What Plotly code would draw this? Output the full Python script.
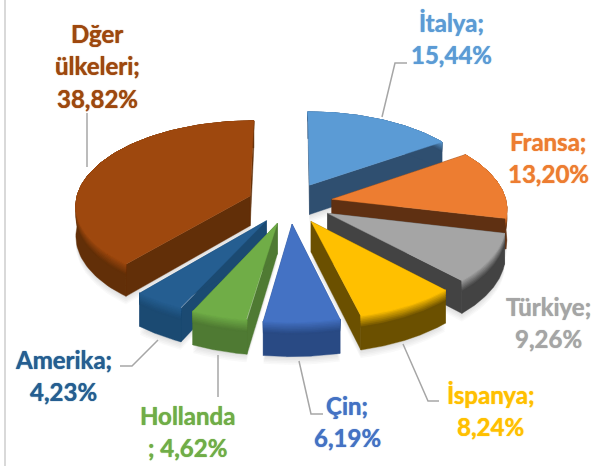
import numpy as np
import plotly.graph_objects as go

names = ["İtalya", "Fransa", "Türkiye", "İspanya", "Çin", "Hollanda", "Amerika", "Dğer ülkeleri"]
values = [15.44, 13.20, 9.26, 8.24, 6.19, 4.62, 4.23, 38.82]
top_colors = ["#5b9bd5", "#ed7d31", "#a5a5a5", "#ffc000", "#4472c4", "#70ad47", "#255e91", "#9e480e"]
cut_colors = ["#2f4f70", "#5f3012", "#434343", "#6b5000", "#294a84", "#4f7a33", "#1b4a72", "#622f08"]
draw_order = [7, 0, 1, 2, 3, 6, 5, 4]

label_lines = [
    ["İtalya;", "15,44%"], ["Fransa;", "13,20%"], ["Türkiye;", "9,26%"], ["İspanya;", "8,24%"],
    ["Çin;", "6,19%"], ["Hollanda", "; 4,62%"], ["Amerika;", "4,23%"], ["Dğer", "ülkeleri;", "38,82%"],
]
label_anchor = [(451, 22), (548, 141), (548, 306), (490, 394), (347, 405), (187, 415), (63, 359), (97, 33)]
leaders = [
    [(382, 117), (395, 63), (407, 63)],
    [(87, 113), (87, 167)],
    [(158, 340), (132, 366), (120, 366)],
    [(218, 355), (218, 397)],
    [(299, 361), (311, 414), (323, 414)],
    [(403, 344), (428, 401), (439, 401)],
]

# projection settings
CX, CY, AX, BY, PERSP, DEPTH, EXPLODE = 290, 203, 174.5, 84, 0.10, 30, 0.245


def project(theta, mid, r, z):
    X = r * np.sin(theta) + EXPLODE * np.sin(mid)
    Y = r * np.cos(theta) + EXPLODE * np.cos(mid)
    s = 1 / (1 + PERSP * Y)
    return CX + AX * X * s, CY - BY * Y * s + DEPTH * z * s


def rgb(h):
    return np.array([int(h[i:i + 2], 16) for i in (1, 3, 5)], float)


def mix(a, b, t):
    c = rgb(a) * (1 - t) + rgb(b) * t
    return "rgb(%d,%d,%d)" % tuple(c)


fig = go.Figure()


def poly(xs, ys, color):
    fig.add_trace(go.Scatter(x=np.asarray(xs), y=np.asarray(ys), mode="lines", fill="toself",
                             fillcolor=color, line=dict(color=color, width=0.4),
                             hoverinfo="skip", showlegend=False))


edges = np.cumsum([0] + values) / sum(values) * 2 * np.pi
bands = [0, .05, .1, .15, .2, .25, .3, .35]

# soft shadows
for i in draw_order:
    a0, a1 = edges[i], edges[i + 1]
    mid = (a0 + a1) / 2
    th = np.linspace(a0, a1, 80)
    for k in range(1, 6):
        bx, by = project(th, mid, 1.0, 1.0)
        ax_, ay_ = project(np.array([mid]), mid, 0.0, 1.0)
        xs = np.r_[ax_, bx, ax_]
        ys = np.r_[ay_, by, ay_] + k * 1.6
        poly(xs, ys, "rgba(0,0,0,0.025)")

for i in draw_order:
    a0, a1 = edges[i], edges[i + 1]
    mid = (a0 + a1) / 2
    th = np.linspace(a0, a1, 80)
    top, cut = top_colors[i], cut_colors[i]
    # radial cut faces
    for a in (a0, a1):
        ox0, oy0 = project(np.array([a]), mid, 1.0, 0.0)
        ox1, oy1 = project(np.array([a]), mid, 1.0, 1.0)
        ix0, iy0 = project(np.array([a]), mid, 0.0, 0.0)
        ix1, iy1 = project(np.array([a]), mid, 0.0, 1.0)
        poly(np.r_[ix0, ox0, ox1, ix1, ix0], np.r_[iy0, oy0, oy1, iy1, iy0], cut)
    # outer wall: base colour, then nested bands for the rounded edge (painted bottom-up)
    x0, y0 = project(th, mid, 1.0, 0.0)
    x1, y1 = project(th, mid, 1.0, 1.0)
    poly(np.r_[x0, x1[::-1], x0[0]], np.r_[y0, y1[::-1], y0[0]], cut)
    for z in bands[::-1]:
        x1, y1 = project(th, mid, 1.0, z)
        poly(np.r_[x0, x1[::-1], x0[0]], np.r_[y0, y1[::-1], y0[0]], mix(top, cut, z / bands[-1]))
    # top face
    tx, ty = project(th, mid, 1.0, 0.0)
    ax_, ay_ = project(np.array([mid]), mid, 0.0, 0.0)
    poly(np.r_[ax_, tx, ax_], np.r_[ay_, ty, ay_], top)

for pts in leaders:
    fig.add_trace(go.Scatter(x=[p[0] for p in pts], y=[p[1] for p in pts], mode="lines",
                             line=dict(color="#a6a6a6", width=1.5), hoverinfo="skip", showlegend=False))

fig.add_shape(type="line", x0=5, x1=5, y0=0, y1=466, line=dict(color="#d9d9d9", width=2))

for lines, (ax0, ay0), color in zip(label_lines, label_anchor, top_colors):
    for n, line in enumerate(lines):
        fig.add_annotation(x=ax0, y=ay0 + n * 32.7, text="<b>%s</b>" % line, showarrow=False,
                           xanchor="center", yanchor="middle",
                           font=dict(family="Lato", size=24, color=color, shadow="0 0 1px " + color))

fig.update_layout(width=591, height=466, margin=dict(l=0, r=0, t=0, b=0),
                  paper_bgcolor="white", plot_bgcolor="white",
                  xaxis=dict(range=[0, 591], visible=False, fixedrange=True),
                  yaxis=dict(range=[466, 0], visible=False, fixedrange=True))
fig.write_html("out.html", config=dict(displayModeBar=False),
               post_script="document.body.style.margin='0';document.documentElement.style.overflow='hidden';")
